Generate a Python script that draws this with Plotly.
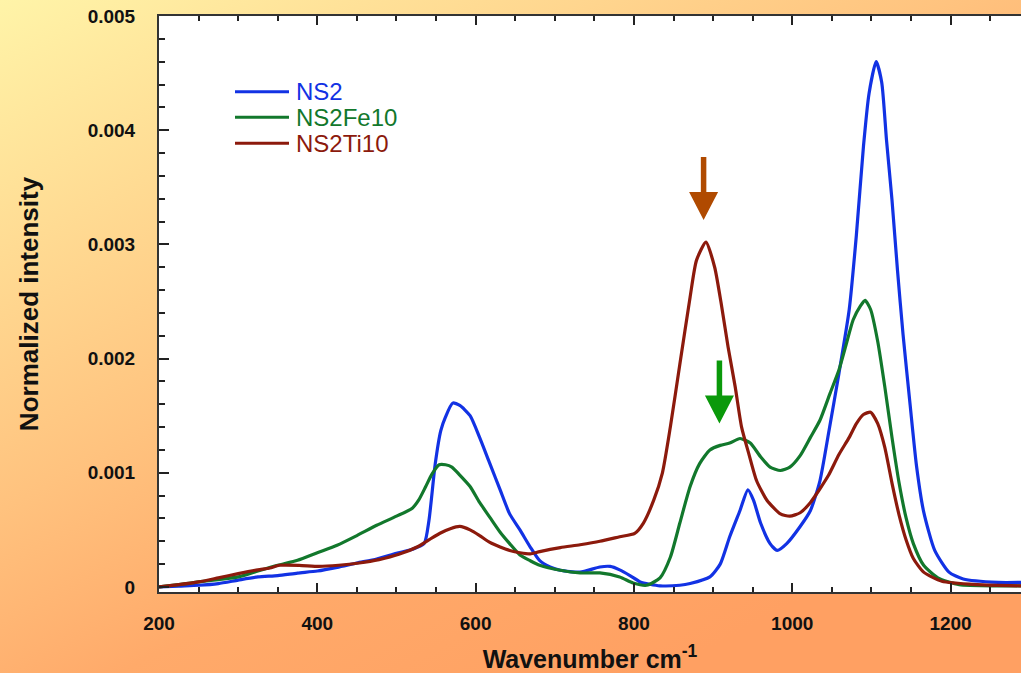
import base64
import plotly.graph_objects as go

# ---- spectra (wavenumber in cm-1, normalized intensity) ----
wavenumber_ns2 = [200, 225, 250, 275, 300, 325, 350, 375, 400, 425, 450, 475, 500, 520, 535,
                  541, 549, 556, 562, 571, 580, 593, 605, 618, 631, 643, 656, 669, 681, 694,
                  707, 732, 757, 770, 782, 795, 808, 820, 833, 858, 871, 896, 909, 921, 934,
                  944, 951, 960, 972, 981, 993, 1010, 1023, 1035, 1046, 1059, 1072, 1081, 1090,
                  1097, 1106, 1113, 1119, 1126, 1133, 1140, 1149, 1157, 1166, 1180, 1198, 1216,
                  1260, 1289]
intensity_ns2 = [0.0, 0.000008, 0.000015, 0.00003, 0.00006, 0.000088, 0.0001, 0.000122, 0.00014,
                 0.000172, 0.00021, 0.000245, 0.000295, 0.00033, 0.00038,
                 0.00058, 0.00108, 0.00137, 0.00149, 0.00161, 0.00159, 0.0015, 0.00131, 0.00108,
                 0.00085, 0.00064, 0.0005, 0.00035, 0.00023, 0.000175,
                 0.000146, 0.00013, 0.000175, 0.00018, 0.00015, 0.0001, 0.000044, 0.000024,
                 0.00001, 0.000015, 0.00003, 0.000088, 0.0002, 0.00044, 0.00067,
                 0.00085, 0.00076, 0.00056, 0.00038, 0.00032, 0.00038, 0.00053, 0.00067, 0.00093,
                 0.00135, 0.00187, 0.00243, 0.00308, 0.00386,
                 0.00432, 0.0046, 0.00442, 0.00392, 0.00339, 0.00277, 0.00221, 0.00159, 0.00106,
                 0.00066, 0.00032, 0.00013, 0.00007,
                 0.00004, 0.00004]

wavenumber_fe = [200, 225, 250, 275, 300, 325, 350, 375, 400, 425, 450, 475, 500, 520, 528,
                 537, 545, 554, 562, 570, 580, 593, 605, 618, 631, 643, 656, 669, 681, 707,
                 732, 757, 782, 799, 816, 833, 846, 858, 871, 883, 896, 909, 921, 934, 947,
                 960, 972, 985, 997, 1010, 1023, 1035, 1048, 1059, 1068, 1077, 1086, 1092, 1099,
                 1108, 1117, 1126, 1135, 1144, 1153, 1166, 1184, 1211, 1260, 1289]
intensity_fe = [0.0, 0.00002, 0.000044, 0.000065, 0.000088, 0.00014, 0.00019, 0.000234, 0.0003,
                0.000365, 0.00045, 0.00054, 0.00062, 0.00069, 0.00076,
                0.00088, 0.00099, 0.00107, 0.00107, 0.00105, 0.00098, 0.00088, 0.00074, 0.00061,
                0.00048, 0.00038, 0.00028, 0.00023, 0.00019, 0.000146,
                0.000123, 0.000123, 0.000088, 0.000035, 0.000015, 0.00008, 0.00026, 0.00056,
                0.00088, 0.00108, 0.0012, 0.00124, 0.00126, 0.0013, 0.00126,
                0.00114, 0.00105, 0.00102, 0.00105, 0.00115, 0.00131, 0.00146, 0.0017, 0.0019,
                0.00212, 0.00234, 0.00246, 0.00251, 0.00243,
                0.00215, 0.00175, 0.00131, 0.00091, 0.0006, 0.00038, 0.00019, 0.00008, 0.00002,
                0.00001, 0.00001]

wavenumber_ti = [200, 225, 250, 275, 300, 325, 340, 352, 377, 402, 427, 453, 478, 503, 528,
                 545, 555, 568, 580, 593, 605, 618, 631, 643, 656, 669, 681, 707, 732, 757,
                 782, 801, 812, 825, 836, 846, 858, 871, 879, 891, 902, 911, 919, 928, 936,
                 945, 955, 968, 985, 997, 1010, 1023, 1035, 1046, 1059, 1072, 1081, 1090, 1099,
                 1108, 1117, 1126, 1135, 1144, 1153, 1166, 1189, 1234, 1289]
intensity_ti = [0.0, 0.00002, 0.000044, 0.00008, 0.000117, 0.00015, 0.000166, 0.00019, 0.00019,
                0.00018, 0.00019, 0.00021, 0.00024, 0.000286, 0.000357,
                0.00043, 0.00047, 0.00051, 0.00053, 0.0005, 0.00045, 0.00039, 0.00035, 0.00032,
                0.0003, 0.00029, 0.00031, 0.000345, 0.00037, 0.0004,
                0.00044, 0.00047, 0.00056, 0.00076, 0.001, 0.0014, 0.00195, 0.00254, 0.00286,
                0.00302, 0.0028, 0.00245, 0.0021, 0.00175, 0.0014,
                0.00117, 0.00093, 0.00076, 0.00064, 0.00062, 0.00065, 0.00074, 0.00086, 0.00098,
                0.00116, 0.00131, 0.00143, 0.00151, 0.00153,
                0.00143, 0.00122, 0.00091, 0.00063, 0.00041, 0.00025, 0.00013, 0.00005, 0.00002,
                0.00001]

series_names = ["NS2", "NS2Fe10", "NS2Ti10"]
series_colors = ["#1232E4", "#12782C", "#8C1A0C"]

# marker arrows pointing at the Ti and Fe bands
arrow_x = [888, 908]
arrow_tip = [0.003213, 0.001432]
arrow_colors = ["#B04A00", "#0A990A"]

# ---- layout geometry ----
W, H = 1021, 673
ML, MR, MT, MB = 159, 0, 16, 81
X_RANGE = [200, 1289]
Y_RANGE = [-0.000044, 0.005]
PW, PH = W - ML - MR, H - MT - MB
UX = (X_RANGE[1] - X_RANGE[0]) / PW   # data units per pixel, x
UY = (Y_RANGE[1] - Y_RANGE[0]) / PH   # data units per pixel, y

FONT = "Liberation Sans, Arial, sans-serif"

fig = go.Figure()
for xs, ys, name, col in zip([wavenumber_ns2, wavenumber_fe, wavenumber_ti],
                             [intensity_ns2, intensity_fe, intensity_ti],
                             series_names, series_colors):
    fig.add_trace(go.Scatter(x=xs, y=ys, mode="lines", name=name, showlegend=False,
                             line=dict(color=col, width=3.2, shape="spline", smoothing=0.6)))


def arrow_path(x, y_tip, head_h=28, head_w=29, shaft_h=35, shaft_w=5.5):
    hw = head_w / 2 * UX
    sw = shaft_w / 2 * UX
    y_head = y_tip + head_h * UY
    y_top = y_head + shaft_h * UY
    pts = [(x - sw, y_top), (x + sw, y_top), (x + sw, y_head), (x + hw, y_head),
           (x, y_tip), (x - hw, y_head), (x - sw, y_head)]
    return "M " + " L ".join(f"{px},{py}" for px, py in pts) + " Z"


# white plotting area on top of the page background, beneath the traces
shapes = [dict(type="rect", xref="paper", yref="paper", x0=0, x1=1, y0=0, y1=1,
               fillcolor="white", line=dict(width=0), layer="below")]
for ax_, at, ac in zip(arrow_x, arrow_tip, arrow_colors):
    shapes.append(dict(type="path", xref="x", yref="y", path=arrow_path(ax_, at),
                       fillcolor=ac, line=dict(width=0)))

# legend: coloured key lines with matching coloured labels
legend_rows_px = [91.7, 117.3, 143.3]
annotations = []
for row, name, col in zip(legend_rows_px, series_names, series_colors):
    yp = (H - MB - row) / PH
    shapes.append(dict(type="line", xref="paper", yref="paper",
                       x0=(235 - ML) / PW, x1=(289 - ML) / PW, y0=yp, y1=yp,
                       line=dict(color=col, width=3)))
    annotations.append(dict(xref="paper", yref="paper", x=(294 - ML) / PW, y=yp,
                            xanchor="left", yanchor="middle", showarrow=False, text=name,
                            font=dict(family=FONT, size=24, color=col)))

# warm yellow-to-orange page background
svg = f'''<svg xmlns="http://www.w3.org/2000/svg" width="{W}" height="{H}" viewBox="0 0 {W} {H}" preserveAspectRatio="none">
<defs><linearGradient id="g" gradientUnits="userSpaceOnUse" x1="0" y1="0" x2="420" y2="800">
<stop offset="0" stop-color="#FFF4A8"/><stop offset="0.5" stop-color="#FFC27E"/>
<stop offset="0.72" stop-color="#FFAA6A"/><stop offset="1" stop-color="#FFA062"/>
</linearGradient></defs><rect width="{W}" height="{H}" fill="url(#g)"/></svg>'''
bg_src = "data:image/svg+xml;base64," + base64.b64encode(svg.encode()).decode()

tick_font = dict(family=FONT, size=19, color="#111111", weight="bold")
axis_common = dict(showgrid=False, zeroline=False, showline=True, linecolor="#333333",
                   linewidth=2, ticks="inside", tickcolor="#222222", tickwidth=1.5,
                   tickfont=tick_font)

fig.update_layout(
    width=W, height=H,
    margin=dict(l=ML, r=MR, t=MT, b=MB, pad=0),
    paper_bgcolor="#FFC27E",
    plot_bgcolor="white",
    showlegend=False,
    images=[dict(source=bg_src, xref="paper", yref="paper", x=-ML / PW, y=1 + MT / PH,
                 sizex=W / PW, sizey=H / PH, xanchor="left", yanchor="top",
                 sizing="stretch", layer="below")],
    shapes=shapes,
    annotations=annotations,
    xaxis=dict(range=X_RANGE, dtick=200, tick0=0, ticklen=9, mirror="ticks",
               ticklabelstandoff=13,
               minor=dict(dtick=50, ticks="inside", ticklen=5, tickcolor="#222222", tickwidth=1.5),
               title=dict(text="Wavenumber cm<sup>-1</sup>", standoff=19,
                          font=dict(family=FONT, size=25, color="#111111", weight="bold")),
               **axis_common),
    yaxis=dict(range=Y_RANGE, dtick=0.001, tick0=0, ticklen=10, tickformat="~g",
               ticklabelstandoff=18,
               minor=dict(dtick=0.0002, ticks="inside", ticklen=6, tickcolor="#222222", tickwidth=1.5),
               title=dict(text="Normalized intensity", standoff=42,
                          font=dict(family=FONT, size=26, color="#111111", weight="bold")),
               **axis_common),
)

fig.write_html("out.html")
